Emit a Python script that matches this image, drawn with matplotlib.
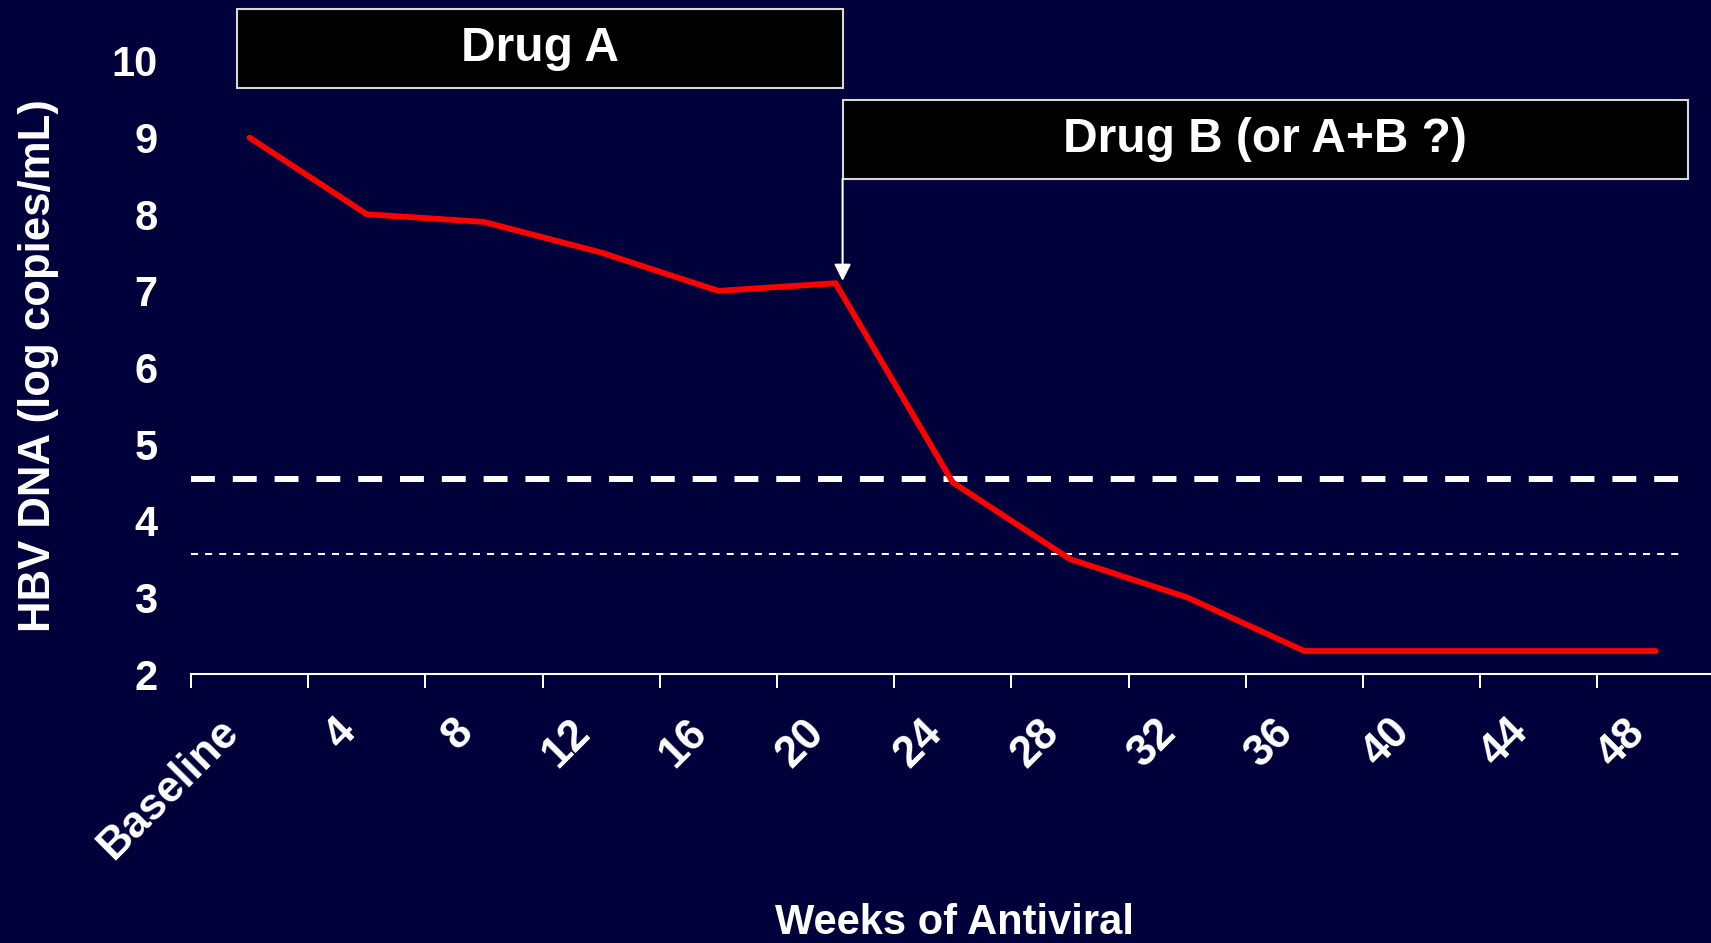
import numpy as np
import matplotlib

matplotlib.use("Agg")
import matplotlib.pyplot as plt  # noqa: E402
from matplotlib.patches import Rectangle  # noqa: E402
from matplotlib.transforms import ScaledTranslation  # noqa: E402

plt.rcParams.update({
    "font.family": ["Liberation Sans", "DejaVu Sans"],
    "font.weight": "bold",
    "axes.labelweight": "bold",
})

BG = "#00003a"

# ---- data ----
categories = ["Baseline", "4", "8", "12", "16", "20", "24",
              "28", "32", "36", "40", "44", "48"]
hbv_dna = [9.0, 8.0, 7.9, 7.5, 7.0, 7.1, 4.5, 3.5, 3.0, 2.3, 2.3, 2.3, 2.3]
upper_threshold = 4.55      # thick dashed line
lower_threshold = 3.57      # thin dashed line
y_ticks = [2, 3, 4, 5, 6, 7, 8, 9, 10]

x = np.arange(len(categories))

fig = plt.figure(figsize=(17.11, 9.43), dpi=100, facecolor=BG)
ax = fig.add_axes([191 / 1711, 1 - 674 / 943, 1 - 191 / 1711, 613 / 943])
ax.set_facecolor(BG)

ax.set_xlim(-0.5, 12.47)
ax.set_ylim(2, 10)

# threshold lines
ax.hlines(upper_threshold, -0.5, 12.26, colors="white", lw=4.3,
          linestyles=(0, (4.0, 3.0)), zorder=2)
ax.hlines(lower_threshold, -0.5, 12.23, colors="white", lw=1.45,
          linestyles=(0, (3.5, 3.5)), zorder=2)

# viral load
ax.plot(x, hbv_dna, color="#ff0000", lw=4.2, solid_capstyle="round",
        solid_joinstyle="miter", zorder=3, clip_on=False)

# axes styling
for s in ("left", "right", "top"):
    ax.spines[s].set_visible(False)
ax.spines["bottom"].set_color("white")
ax.spines["bottom"].set_linewidth(1.5)

ax.set_yticks(y_ticks)
ax.set_yticklabels([str(v) for v in y_ticks])
ax.tick_params(axis="y", length=0, pad=24, labelsize=30, labelcolor="white")

# tick marks on category boundaries, labels on category centres
ax.set_xticks(np.arange(len(categories)) - 0.5)
ax.set_xticklabels([])
ax.tick_params(axis="x", which="major", length=10, width=1.45,
               color="white", direction="out")
ax.set_xticks(x, minor=True)
ax.set_xticklabels(categories, minor=True, rotation=45, ha="right",
                   va="top", rotation_mode="anchor")
ax.tick_params(axis="x", which="minor", length=0, pad=27, labelsize=31.5,
               labelcolor="white")
shift = ScaledTranslation(-32 / 100, 0, fig.dpi_scale_trans)
for lab in ax.get_xticklabels(minor=True):
    lab.set_transform(lab.get_transform() + shift)

ax.set_xlabel("Weeks of Antiviral", fontsize=30, color="white",
              va="center", fontweight="bold")
ax.xaxis.set_label_coords(0.502, -0.407)
ax.set_ylabel("HBV DNA (log copies/mL)", fontsize=31.5, color="white",
              va="center", ha="center", fontweight="bold")
ax.yaxis.set_label_coords(-0.1000, 0.503)

# treatment boxes
ax.add_patch(Rectangle((-0.108, 9.65), 5.06 + 0.108, 10.68 - 9.65,
                       facecolor="black", edgecolor="#d8d8d8", lw=1.5,
                       clip_on=False, zorder=4))
ax.text((-0.108 + 5.06) / 2, (9.65 + 10.68) / 2, "Drug A", color="white",
        fontsize=34.5, ha="center", va="center", zorder=5)

ax.add_patch(Rectangle((5.06, 8.46), 12.27 - 5.06, 9.49 - 8.46,
                       facecolor="black", edgecolor="#d8d8d8", lw=1.5,
                       clip_on=False, zorder=4))
ax.text((5.06 + 12.27) / 2, (8.46 + 9.49) / 2, "Drug B (or A+B ?)",
        color="white", fontsize=34.5, ha="center", va="center", zorder=5)

ax.annotate("", xy=(5.06, 7.13), xytext=(5.06, 8.46),
            arrowprops=dict(arrowstyle="-|>,head_length=1.0,head_width=0.5",
                            color="white", lw=1.5, shrinkA=0, shrinkB=0),
            zorder=5)

fig.savefig("out.png", dpi=100, facecolor=BG)
